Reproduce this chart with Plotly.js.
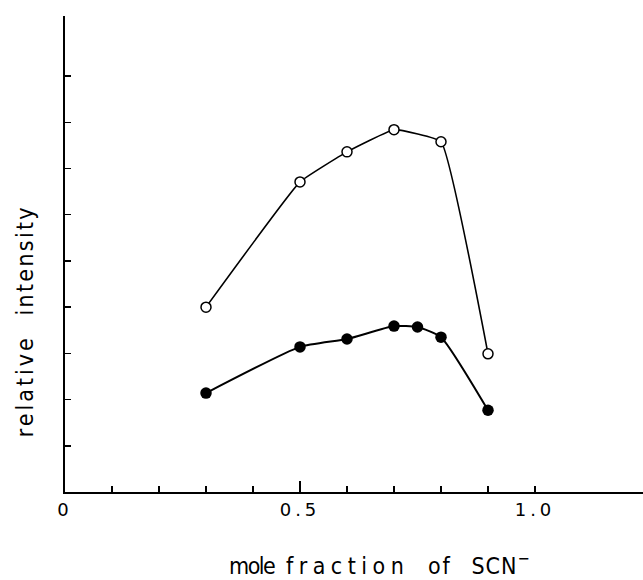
<!DOCTYPE html>
<html>
<head>
<meta charset="utf-8">
<script src="https://cdn.plot.ly/plotly-3.0.1.min.js"></script>
<style>
html,body{margin:0;padding:0;background:#fff;}
#chart{width:643px;height:580px;}
#chart .xtick text{letter-spacing:4px;}
</style>
</head>
<body>
<div id="chart"></div>
<script>
// Data (relative intensity in y-tick units)
const openX = [0.3, 0.5, 0.6, 0.7, 0.8, 0.9];
const openY = [4.0, 6.71, 7.36, 7.84, 7.58, 2.99];
const filledX = [0.3, 0.5, 0.6, 0.7, 0.75, 0.8, 0.9];
const filledY = [2.14, 3.14, 3.31, 3.59, 3.57, 3.35, 1.77];
const xTickVals = [0, 0.1, 0.2, 0.3, 0.4, 0.5, 0.6, 0.7, 0.8, 0.9, 1.0];
const xTickText = ["0", " ", " ", " ", " ", "0.5", " ", " ", " ", " ", "1.0"];
const xLongTick = [0.5];
const yTickVals = [1, 2, 3, 4, 5, 6, 7, 8, 9];
const xTitleWords = ["mole", "fraction", "of", "SCN<sup>−</sup>"];
const yTitleWords = ["relative", "intensity"];

const font = "DejaVu Sans, sans-serif";
const titleFont = "DejaVu Sans Condensed, sans-serif";
const sp = (t, ls) => '<span style="letter-spacing:' + ls + 'px">' + t + '</span>';
const xTitle = sp(xTitleWords[0], -1.5) + sp(" ", 5) + sp(xTitleWords[1], 5.5) + sp(" ", 12) +
               sp(xTitleWords[2], 2) + sp(" ", 13) + sp(xTitleWords[3], 1);
const yTitle = sp(yTitleWords[0], 3) + sp("   ", 0) + sp(yTitleWords[1], 2.3);

const traces = [
  {
    x: openX, y: openY, type: "scatter", mode: "lines+markers",
    line: {color: "#000", width: 1.6, shape: "spline", smoothing: 0.3},
    marker: {symbol: "circle", size: 10, color: "#fff", line: {color: "#000", width: 1.5}},
    hoverinfo: "skip"
  },
  {
    x: filledX, y: filledY, type: "scatter", mode: "lines+markers",
    line: {color: "#000", width: 2, shape: "spline", smoothing: 0.5},
    marker: {symbol: "circle", size: 11.5, color: "#000"},
    hoverinfo: "skip"
  },
  {x: [], y: [], xaxis: "x2", yaxis: "y", type: "scatter", hoverinfo: "skip"}
];

const layout = {
  width: 643, height: 580,
  margin: {l: 65, r: 0, t: 16, b: 88},
  paper_bgcolor: "#fff", plot_bgcolor: "#fff",
  showlegend: false,
  font: {family: font, color: "#000", size: 18},
  xaxis: {
    range: [0, 1.2298], showgrid: false, zeroline: false,
    showline: true, linecolor: "#000", linewidth: 2,
    tickmode: "array", tickvals: xTickVals, ticktext: xTickText,
    ticks: "inside", ticklen: 6, tickwidth: 1.5, tickcolor: "#000",
    tickfont: {family: font, size: 18, color: "#000"}
  },
  xaxis2: {
    overlaying: "x", matches: "x", range: [0, 1.2298], showgrid: false, zeroline: false,
    showline: false, tickmode: "array", tickvals: xLongTick,
    ticks: "inside", ticklen: 11, tickwidth: 1.5, tickcolor: "#000",
    showticklabels: false, anchor: "y"
  },
  yaxis: {
    range: [0, 10.3], showgrid: false, zeroline: false,
    showline: true, linecolor: "#000", linewidth: 2,
    tickmode: "array", tickvals: yTickVals, ticks: "inside", ticklen: 6, tickwidth: 1.5, tickcolor: "#000",
    showticklabels: false
  },
  annotations: [
    {
      text: yTitle, textangle: -90, showarrow: false,
      xref: "paper", yref: "paper", x: -0.069, y: 0.359, xanchor: "center", yanchor: "middle",
      font: {family: titleFont, size: 23, color: "#000"}
    },
    {
      text: xTitle, showarrow: false, borderpad: 0,
      xref: "paper", yref: "paper", x: 0.545, y: -0.1845, xanchor: "center", yanchor: "bottom",
      font: {family: titleFont, size: 23, color: "#000"}
    }
  ]
};

Plotly.newPlot("chart", traces, layout, {staticPlot: true, displayModeBar: false});
</script>
</body>
</html>
